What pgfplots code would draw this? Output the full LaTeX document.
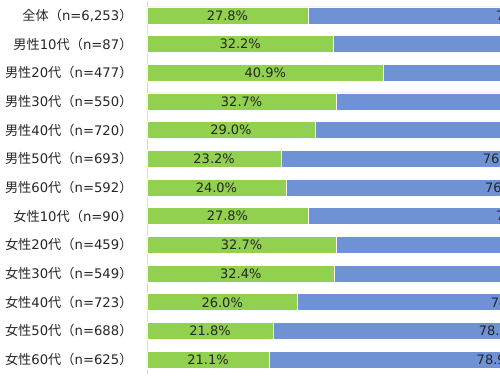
\documentclass[border=0pt]{standalone}
\usepackage{fontspec}
\setmainfont{DejaVu Sans}
\newfontfamily\cjk{Noto Sans CJK JP}
\usepackage{pgfplots}
\usepackage{pgfplotstable}
\pgfplotsset{compat=1.18}
\definecolor{grn}{HTML}{92D050}
\definecolor{blu}{HTML}{6F92D4}
\definecolor{txt}{HTML}{262626}
\newcommand\J[1]{{\cjk #1}}
\pgfplotstableread{
row g b
0 27.8 72.2
1 32.2 67.8
2 40.9 59.1
3 32.7 67.3
4 29.0 71.0
5 23.2 76.8
6 24.0 76.0
7 27.8 72.2
8 32.7 67.3
9 32.4 67.6
10 26.0 74.0
11 21.8 78.2
12 21.1 78.9
}\datatable
\pgfplotsset{common/.style={
  at={(0,0)}, anchor=south west, scale only axis,
  width=353pt, height=373pt,
  xmin=0, xmax=61, ymin=-0.5, ymax=12.5, y dir=reverse}}
\begin{document}
\begin{tikzpicture}
\path[use as bounding box] (-147pt,-1pt) rectangle (353pt,374pt);
\clip (-147pt,-1pt) rectangle (353pt,374pt);
\begin{axis}[common,
  xbar stacked,
  bar width=17pt,
  axis x line=none, axis y line*=left,
  y axis line style={draw=black!15, line width=0.8pt},
  ytick={0,...,12}, major tick length=0pt,
  yticklabels={
    {\J{全体（}n=6,253\J{）}},
    {\J{男性}10\J{代（}n=87\J{）}},
    {\J{男性}20\J{代（}n=477\J{）}},
    {\J{男性}30\J{代（}n=550\J{）}},
    {\J{男性}40\J{代（}n=720\J{）}},
    {\J{男性}50\J{代（}n=693\J{）}},
    {\J{男性}60\J{代（}n=592\J{）}},
    {\J{女性}10\J{代（}n=90\J{）}},
    {\J{女性}20\J{代（}n=459\J{）}},
    {\J{女性}30\J{代（}n=549\J{）}},
    {\J{女性}40\J{代（}n=723\J{）}},
    {\J{女性}50\J{代（}n=688\J{）}},
    {\J{女性}60\J{代（}n=625\J{）}}},
  yticklabel style={font=\fontsize{13.2}{15}\selectfont, text=txt, xshift=-11pt},
]
\addplot[fill=grn, draw=white, line width=0.6pt] table[x=g, y=row] {\datatable};
\addplot[fill=blu, draw=white, line width=0.6pt] table[x=b, y=row] {\datatable};
\end{axis}
\begin{axis}[common, hide axis, clip=false,
  /pgf/number format/assume math mode=true,
  nodes near coords={\pgfmathprintnumber[fixed, fixed zerofill, precision=1]{\pgfplotspointmeta}\%},
  every node near coord/.append style={font=\fontsize{13}{15}\selectfont, text=txt, anchor=center},
]
\addplot[draw=none, mark=none, point meta=explicit] table[x expr=\thisrow{g}/2, y=row, meta=g] {\datatable};
\addplot[draw=none, mark=none, point meta=explicit] table[x expr=\thisrow{g}+\thisrow{b}/2, y=row, meta=b] {\datatable};
\end{axis}
\end{tikzpicture}
\end{document}
